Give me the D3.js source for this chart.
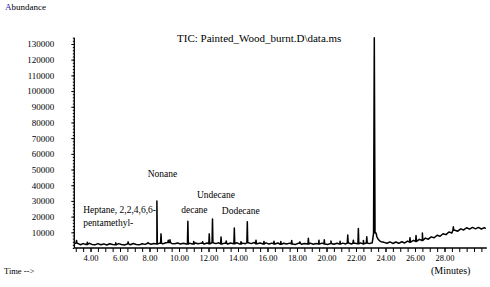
<!DOCTYPE html>
<html>
<head>
<meta charset="utf-8">
<script src="https://cdn.jsdelivr.net/npm/d3@7"></script>
<style>
  body { margin: 0; background: #fff; }
  .axis path, .axis line { stroke: #000; }
  text { fill: #000; font-family: 'Liberation Serif', 'Times New Roman', 'DejaVu Serif', serif; }
</style>
</head>
<body>
<div class="chart"></div>
<script>
var svgWidth = 490;
var svgHeight = 287;
var serif = "'Liberation Serif', 'Times New Roman', 'DejaVu Serif', serif";

// baseline of the TIC trace, [minutes, abundance]
var baseline = [
  [2.9, 2600], [3.1, 3100], [3.3, 2100], [3.5, 2800], [3.7, 2200], [3.9, 3000],
  [4.1, 2300], [4.3, 2000], [4.5, 2800], [4.7, 2100], [4.9, 2600], [5.1, 1900],
  [5.3, 2700], [5.5, 2200], [5.7, 2000], [5.9, 2800], [6.1, 2200], [6.3, 1900],
  [6.5, 2600], [6.7, 2100], [6.9, 2900], [7.1, 2200], [7.3, 2000], [7.5, 2700],
  [7.7, 2300], [7.9, 3000], [8.1, 2400], [8.3, 2900], [8.5, 2500], [8.7, 3100],
  [8.9, 2600], [9.1, 3300], [9.3, 3500], [9.5, 2900], [9.7, 2700], [9.9, 3200],
  [10.1, 2600], [10.3, 3000], [10.5, 2500], [10.7, 3100], [10.9, 2600], [11.1, 3200],
  [11.3, 2700], [11.5, 3100], [11.7, 2500], [11.9, 3200], [12.1, 2700], [12.3, 3400],
  [12.5, 2800], [12.7, 3300], [12.9, 2600], [13.1, 3100], [13.3, 2500], [13.5, 3200],
  [13.7, 2700], [13.9, 3300], [14.1, 2600], [14.3, 3100], [14.5, 2700], [14.7, 3400],
  [14.9, 2800], [15.1, 3500], [15.3, 2700], [15.5, 3200], [15.7, 2600], [15.9, 3300],
  [16.1, 2500], [16.3, 3100], [16.5, 2600], [16.7, 3200], [16.9, 2400], [17.1, 3000],
  [17.3, 2500], [17.5, 3100], [17.7, 2600], [17.9, 2300], [18.1, 3000], [18.3, 2400],
  [18.5, 2900], [18.7, 2500], [18.9, 3100], [19.1, 2400], [19.3, 2900], [19.5, 2500],
  [19.7, 3100], [19.9, 2600], [20.1, 2300], [20.3, 2900], [20.5, 2400], [20.7, 3000],
  [20.9, 2500], [21.1, 3100], [21.3, 2600], [21.5, 3200], [21.7, 2500], [21.9, 3100],
  [22.1, 2700], [22.3, 3300], [22.5, 2600], [22.7, 3200], [22.9, 2800], [23.1, 3300],
  [23.36, 9500], [23.42, 7000], [23.5, 5600], [23.6, 4600], [23.7, 4000], [23.9, 3600],
  [24.1, 3000], [24.3, 3900], [24.5, 2900], [24.7, 3800], [24.9, 3000], [25.1, 4000],
  [25.3, 3200], [25.5, 4400], [25.7, 3700], [25.9, 4900], [26.1, 4200], [26.3, 5500],
  [26.5, 4800], [26.7, 6300], [26.9, 5600], [27.1, 7100], [27.3, 6500], [27.5, 8100],
  [27.7, 7500], [27.9, 9100], [28.1, 8500], [28.3, 10200], [28.5, 9600], [28.7, 11300],
  [28.9, 10700], [29.1, 12200], [29.3, 11500], [29.5, 12900], [29.7, 12000], [29.9, 13100],
  [30.1, 12200], [30.3, 13100], [30.5, 12100], [30.7, 13000], [30.8, 12400]
];

// peak apex times (min) and heights
var peakTimes = [3.05, 3.78, 5.71, 6.55, 7.9, 8.5, 8.78, 9.27, 9.39, 10.6, 11.0, 11.6,
  12.05, 12.27, 12.85, 13.2, 13.75, 14.2, 14.63, 15.22, 15.76, 16.44, 16.9, 17.64,
  18.2, 18.77, 19.49, 19.85, 20.3, 20.92, 21.44, 21.82, 22.16, 22.5, 22.73, 23.24,
  25.66, 26.07, 26.5, 28.6];
var peakHeights = [4800, 3600, 3300, 3900, 3500, 30000, 9000, 4900, 5200, 17000, 4200, 4000,
  9000, 18500, 7000, 4500, 12700, 4000, 16700, 5000, 4200, 4300, 4200, 4800,
  3900, 6200, 5000, 5200, 4400, 4300, 8300, 5000, 12500, 4800, 7200, 134000,
  6600, 8000, 9500, 13500];

// compound labels: text lines, left x in minutes, y in abundance
var labelNames = [["Nonane"], ["Heptane, 2,2,4,6,6-", "pentamethyl-"], ["decane"], ["Undecane"], ["Dodecane"]];
var labelTimes = [7.88, 3.5, 10.15, 11.22, 12.9];
var labelAbund = [45000, 22500, 22500, 31800, 21400];

var yTicks = [10000, 20000, 30000, 40000, 50000, 60000, 70000, 80000, 90000, 100000, 110000, 120000, 130000];
var xTicks = [4, 6, 8, 10, 12, 14, 16, 18, 20, 22, 24, 26, 28];

var svg = d3.select(".chart")
  .append("svg")
  .attr("width", svgWidth)
  .attr("height", svgHeight)
  .attr("font-family", serif);

var x = d3.scaleLinear().domain([2.9, 30.8]).range([74.3, 485.8]);
var y = d3.scaleLinear().domain([0, 134000]).range([248, 37.7]);

// merge baseline with spikes
function nearestBase(t) {
  var best = baseline[0];
  baseline.forEach(function(p) {
    if (Math.abs(p[0] - t) < Math.abs(best[0] - t)) best = p;
  });
  return best[1];
}
var trace = baseline.slice();
peakTimes.forEach(function(t, i) {
  var b = nearestBase(t);
  var w = peakHeights[i] > 100000 ? 0.05 : 0.03;
  trace.push([t - w, b], [t, peakHeights[i]], [t + w, b]);
});
trace.sort(function(a, b) { return a[0] - b[0]; });

// axes
var xMinor = d3.range(3, 31, 0.5);
svg.append("g")
  .attr("class", "axis")
  .attr("transform", `translate(0, ${y(0)})`)
  .call(d3.axisBottom(x).tickValues(xMinor).tickSize(4).tickFormat(""))
  .call(g => g.select(".domain").attr("d", `M${x.range()[0]},0H${x.range()[1] + 1}`).attr("stroke-width", 1.3));

svg.append("g")
  .attr("class", "axis")
  .attr("transform", `translate(0, ${y(0)})`)
  .call(d3.axisBottom(x).tickValues(xTicks).tickSize(4).tickPadding(3).tickFormat(d3.format(".2f")))
  .call(g => g.select(".domain").remove())
  .attr("font-family", serif)
  .selectAll("text")
  .style("font-size", "8.5px");

var yMinor = d3.range(0, 134001, 2000);
svg.append("g")
  .attr("class", "axis")
  .attr("transform", `translate(${x.range()[0]}, 0)`)
  .call(d3.axisLeft(y).tickValues(yMinor).tickSize(1.5).tickFormat(""))
  .call(g => g.select(".domain").attr("d", `M0,${y(0)}V${y.range()[1]}`).attr("stroke-width", 1.3));

svg.append("g")
  .attr("class", "axis")
  .attr("transform", `translate(${x.range()[0]}, 0)`)
  .call(d3.axisLeft(y).tickValues(yTicks).tickSize(3).tickPadding(17).tickFormat(d3.format("d")))
  .call(g => g.select(".domain").remove())
  .attr("font-family", serif)
  .selectAll("text")
  .style("font-size", "9px");

// TIC trace
svg.append("path")
  .datum(trace)
  .attr("fill", "none")
  .attr("stroke", "#000")
  .attr("stroke-width", 1.5)
  .attr("stroke-linejoin", "round")
  .attr("d", d3.line().x(d => x(d[0])).y(d => y(d[1])));

// compound labels
labelNames.forEach(function(lines, i) {
  var t = svg.append("text")
    .attr("x", x(labelTimes[i]))
    .attr("y", y(labelAbund[i]))
    .style("font-size", "9.5px");
  lines.forEach(function(s, j) {
    t.append("tspan").attr("x", x(labelTimes[i])).attr("dy", j ? "1.45em" : 0).text(s);
  });
});

// titles
svg.append("text")
  .attr("x", 177).attr("y", 42)
  .style("font-size", "11px")
  .text("TIC: Painted_Wood_burnt.D\\data.ms");

var ab = svg.append("text").attr("x", 5).attr("y", 10).style("font-size", "9px");
ab.append("tspan").style("fill", "#1c1c9a").text("A");
ab.append("tspan").text("bundance");

svg.append("text")
  .attr("x", 4).attr("y", 274)
  .style("font-size", "8.5px")
  .text("Time -->");

svg.append("text")
  .attr("x", 431).attr("y", 273.5)
  .style("font-size", "10px")
  .text("(Minutes)");
</script>
</body>
</html>
